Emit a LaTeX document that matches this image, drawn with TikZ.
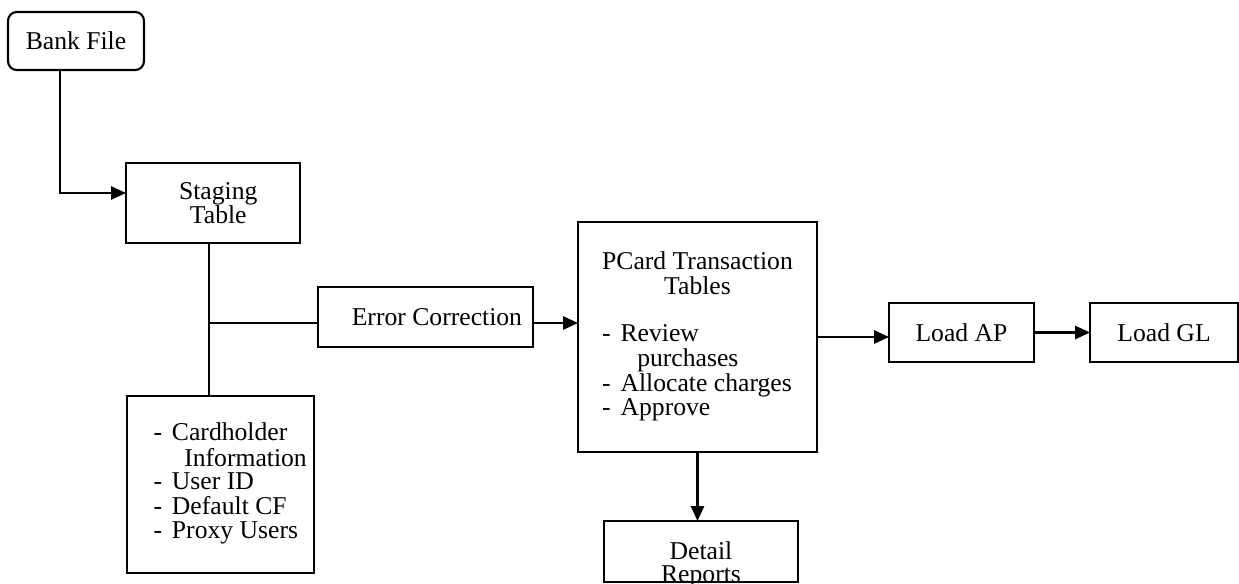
\documentclass[tikz,border=0pt]{standalone}
\usepackage{fontspec}
\setmainfont{Liberation Serif}
\usetikzlibrary{arrows.meta}
\newcommand{\itm}[1]{\makebox[10.5pt][l]{-}#1}

\begin{document}
\begin{tikzpicture}[x=0.02cm,y=-0.02cm,
	box/.style={draw,line width=1.2pt,inner sep=0pt,outer sep=0pt,
		font=\fontsize{14.6}{13.4}\selectfont,align=center},
	wh/.style 2 args={minimum width=#1*0.02cm,minimum height=#2*0.02cm},
	txt/.style={inner sep=0pt,font=\fontsize{14.6}{13.4}\selectfont,align=center},
	conn/.style={line width=1.2pt},
	arr/.style={line width=1.2pt,-{Triangle[length=8.5pt,width=7.5pt]}}]
	\useasboundingbox (0,0) rectangle (1239,584);
	% boxes
	\node[box,wh={136}{58},rounded corners=5pt] (bank) at (76,41) {Bank File};
	\node[box,wh={174}{80}] (staging) at (213,203) {\hspace*{6pt}Staging\\ \hspace*{6pt}Table};
	\node[box,wh={215}{60}] (error) at (425.5,317) {\hspace*{13pt}Error Correction};
	\node[box,wh={187}{177}] (card) at (220.5,484.5) {\begin{tabular}{@{\hspace{11pt}}l@{}}
		\itm{Cardholder}\\ \hspace*{17.5pt}Information\\ \itm{User ID}\\ \itm{Default CF}\\ \itm{Proxy Users}
		\end{tabular}};
	\node[box,wh={239}{230}] (pcard) at (697.5,337) {\begin{tabular}{@{}l@{}}
		\multicolumn{1}{@{}c@{}}{PCard Transaction}\\ \multicolumn{1}{@{}c@{}}{Tables}\\ \\
		\itm{Review}\\ \hspace*{20pt}purchases\\ \itm{Allocate charges}\\ \itm{Approve}
		\end{tabular}};
	\node[box,wh={145}{59}] (loadap) at (961.5,332.5) {Load AP};
	\node[box,wh={148}{59}] (loadgl) at (1164,332.5) {Load GL};
	\node[box,wh={194}{61}] (detail) at (701,551.5) {};
	\node[txt] (detailtxt) at (701,565) {Detail\\Reports};
	% connectors
	\coordinate (bend) at (60,193);
	\coordinate (junc) at (209,323);
	\draw[arr] (bank.south -| bend) -- (bend) -- (bend -| staging.west);
	\draw[conn] (junc |- staging.south) -- (junc |- card.north);
	\draw[conn] (junc) -- (junc -| error.west);
	\draw[arr] (junc -| error.east) -- (junc -| pcard.west);
	\draw[arr] (pcard.east) -- (pcard.east -| loadap.west);
	\draw[arr] (loadap.east) -- (loadgl.west);
	\draw[arr] (pcard.south) -- (pcard.south |- detail.north);
\end{tikzpicture}
\end{document}
